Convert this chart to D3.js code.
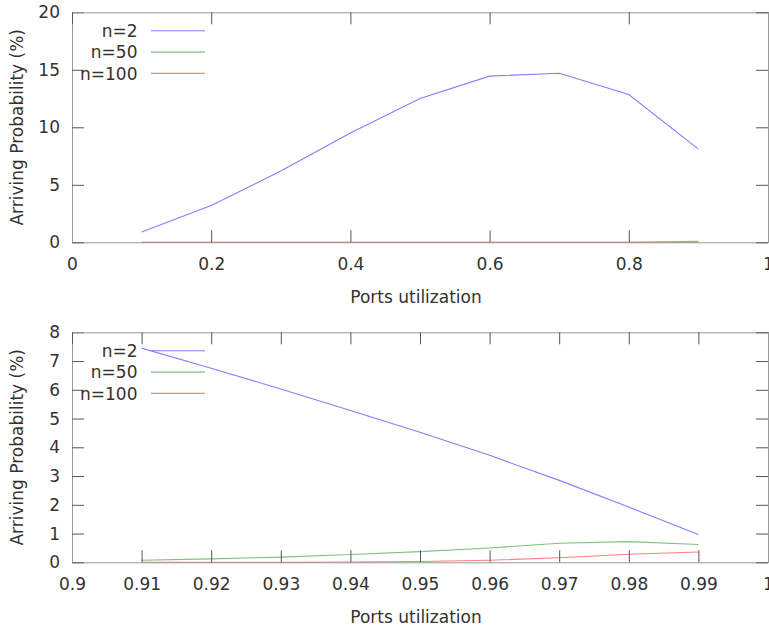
<!DOCTYPE html>
<html>
<head>
<meta charset="utf-8">
<script src="https://cdn.jsdelivr.net/npm/d3@7"></script>
<style>
  body { margin: 0; background: #fff; }
  svg text { font-family: "DejaVu Sans", sans-serif; fill: #333; }
</style>
</head>
<body>
<div id="chart"></div>
<script>
// series names for the legend
const seriesNames = ["n=2", "n=50", "n=100"];

// top panel: utilization 0.1 .. 0.9
const topUtil = [0.1, 0.2, 0.3, 0.4, 0.5, 0.6, 0.7, 0.8, 0.9];
const topN2   = [0.9, 3.2, 6.2, 9.5, 12.5, 14.45, 14.7, 12.85, 8.1];
const topN50  = [0, 0, 0, 0, 0, 0, 0, 0, 0.08];
const topN100 = [0, 0, 0, 0, 0, 0, 0, 0, 0.01];

// bottom panel: utilization 0.91 .. 0.99
const botUtil = [0.91, 0.92, 0.93, 0.94, 0.95, 0.96, 0.97, 0.98, 0.99];
const botN2   = [7.45, 6.75, 6.03, 5.28, 4.52, 3.72, 2.85, 1.92, 0.97];
const botN50  = [0.07, 0.12, 0.18, 0.27, 0.37, 0.5, 0.66, 0.72, 0.62];
const botN100 = [0, 0.001, 0.003, 0.01, 0.03, 0.07, 0.16, 0.28, 0.36];

// tick labels
const topXTicks = [0, 0.2, 0.4, 0.6, 0.8, 1];
const topYTicks = [0, 5, 10, 15, 20];
const botXTicks = [0.9, 0.91, 0.92, 0.93, 0.94, 0.95, 0.96, 0.97, 0.98, 0.99, 1];
const botYTicks = [0, 1, 2, 3, 4, 5, 6, 7, 8];

const colors = ["#8080ff", "#80c080", "#ff8080"];

const W = 769, H = 628;
const svg = d3.select("#chart").append("svg")
    .attr("width", W).attr("height", H);

function panel(top, xs, series, xDomain, yDomain, xTicks, yTicks) {
    let margin = {left: 72, right: 1},
        plotW = W - margin.left - margin.right,
        plotH = 230;

    let g = svg.append("g")
        .attr("transform", "translate(" + margin.left + "," + top + ")");

    let x = d3.scaleLinear().domain(xDomain).range([0, plotW]);
    let y = d3.scaleLinear().domain(yDomain).range([plotH, 0]);

    // lines first, frame on top like gnuplot
    let line = d3.line().x((d, i) => x(d[0])).y(d => y(d[1]));
    series.forEach((vals, k) => {
        g.append("path")
            .datum(xs.map((v, i) => [v, vals[i]]))
            .attr("fill", "none")
            .attr("stroke", colors[k])
            .attr("stroke-width", 1.1)
            .attr("d", line);
    });

    // axes, ticks pointing inward and mirrored
    let fmt = d => String(d);
    let bottom = g.append("g").attr("transform", "translate(0," + plotH + ")")
        .call(d3.axisBottom(x).tickValues(xTicks).tickSize(-12).tickSizeOuter(0).tickPadding(16).tickFormat(fmt));
    let left = g.append("g")
        .call(d3.axisLeft(y).tickValues(yTicks).tickSize(-12).tickSizeOuter(0).tickPadding(12).tickFormat(fmt));
    let topAx = g.append("g")
        .call(d3.axisTop(x).tickValues(xTicks).tickSize(-12).tickSizeOuter(0).tickFormat(""));
    let right = g.append("g").attr("transform", "translate(" + plotW + ",0)")
        .call(d3.axisRight(y).tickValues(yTicks).tickSize(-12).tickSizeOuter(0).tickFormat(""));

    [bottom, left, topAx, right].forEach(a => {
        a.select(".domain").attr("stroke", "#999");
        a.selectAll(".tick line").attr("stroke", "#555");
        a.selectAll("text")
            .style("font-size", "17px")
            .attr("fill", "#333");
    });

    // axis titles
    g.append("text")
        .attr("x", plotW / 2 - 4)
        .attr("y", plotH + 60.5)
        .attr("text-anchor", "middle")
        .style("font-size", "17px")
        .text("Ports utilization");
    g.append("text")
        .attr("transform", "translate(" + (-49.5) + "," + (plotH / 2) + ")rotate(-90)")
        .attr("text-anchor", "middle")
        .style("font-size", "17px")
        .text("Arriving Probability (%)");

    // legend
    seriesNames.forEach((name, k) => {
        let ly = 18.5 + k * 21.3;
        g.append("text")
            .attr("x", 65.5)
            .attr("y", ly)
            .attr("dy", "0.36em")
            .attr("text-anchor", "end")
            .style("font-size", "17px")
            .text(name);
        g.append("line")
            .attr("x1", 79).attr("x2", 133)
            .attr("y1", ly).attr("y2", ly)
            .attr("stroke", colors[k])
            .attr("stroke-width", 1.1);
    });
}

panel(12.3, topUtil, [topN2, topN50, topN100], [0, 1], [0, 20], topXTicks, topYTicks);
panel(332.3, botUtil, [botN2, botN50, botN100], [0.9, 1], [0, 8], botXTicks, botYTicks);
</script>
</body>
</html>
